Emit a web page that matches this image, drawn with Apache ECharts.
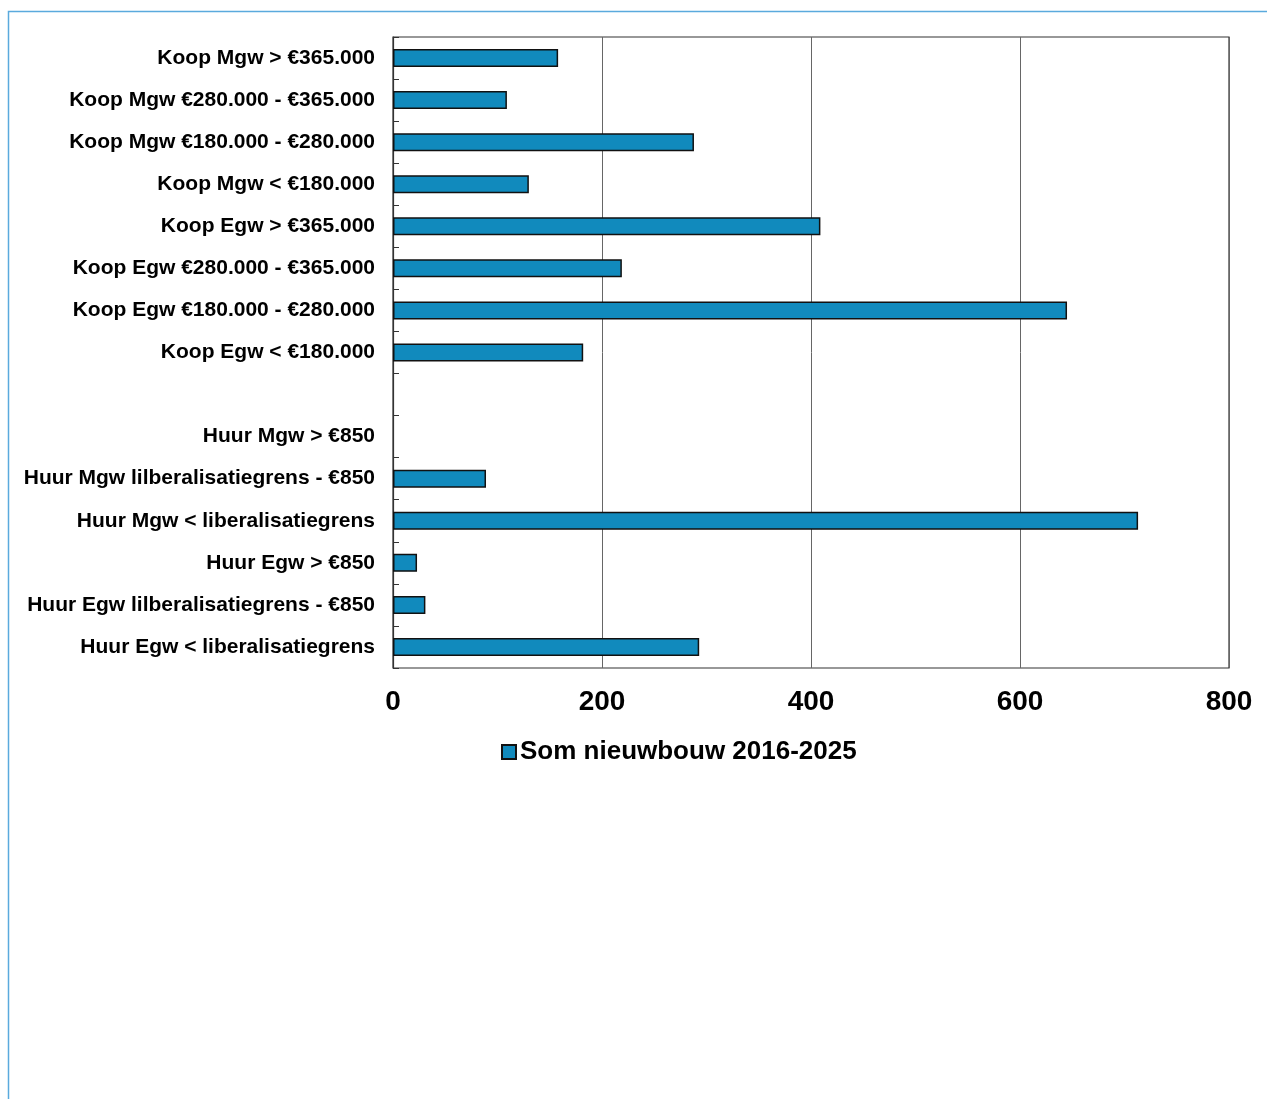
<!DOCTYPE html>
<html>
<head>
<meta charset="utf-8">
<script src="https://cdn.jsdelivr.net/npm/echarts@6/dist/echarts.min.js"></script>
<style>
html,body{margin:0;padding:0;background:#fff;}
#chart{width:1267px;height:1099px;}
</style>
</head>
<body>
<div id="chart"></div>
<script>
var categories = [
  'Koop Mgw > €365.000',
  'Koop Mgw €280.000 - €365.000',
  'Koop Mgw €180.000 - €280.000',
  'Koop Mgw < €180.000',
  'Koop Egw > €365.000',
  'Koop Egw €280.000 - €365.000',
  'Koop Egw €180.000 - €280.000',
  'Koop Egw < €180.000',
  '',
  'Huur Mgw > €850',
  'Huur Mgw lilberalisatiegrens - €850',
  'Huur Mgw < liberalisatiegrens',
  'Huur Egw > €850',
  'Huur Egw lilberalisatiegrens - €850',
  'Huur Egw < liberalisatiegrens'
];
var values = [158, 109, 288, 130, 409, 219, 645, 182, null, null, 89, 713, 23, 31, 293];
var seriesName = 'Som nieuwbouw 2016-2025';
var xTicks = [0, 200, 400, 600, 800];

var chart = echarts.init(document.getElementById('chart'));
var font = '"Liberation Sans", Arial, sans-serif';
chart.setOption({
  animation: false,
  backgroundColor: '#fff',
  grid: {left: 393, right: 38, top: 37, bottom: 431, containLabel: false,
         show: true, borderColor: '#333', borderWidth: 1.2},
  legend: {
    data: [seriesName], top: 734, left: 496,
    itemWidth: 14, itemHeight: 14, itemGap: 6,
    icon: 'rect',
    textStyle: {fontFamily: font, fontWeight: 'bold', fontSize: 26, color: '#000', padding: [0, 0, 0, -1]}
  },
  xAxis: {
    type: 'value', min: xTicks[0], max: xTicks[xTicks.length - 1], interval: 200,
    axisLine: {show: false}, axisTick: {show: false},
    splitLine: {show: true, lineStyle: {color: '#666', width: 1}},
    axisLabel: {margin: 20, fontFamily: font, fontWeight: 'bold', fontSize: 28, color: '#000'}
  },
  yAxis: {
    type: 'category', data: categories, inverse: true,
    axisLine: {show: true, lineStyle: {color: '#333', width: 1.2}},
    axisTick: {show: true, inside: true, length: 6, lineStyle: {color: '#333', width: 1}},
    splitLine: {show: false},
    axisLabel: {margin: 18, fontFamily: font, fontWeight: 'bold', fontSize: 21, color: '#000'}
  },
  series: [{
    name: seriesName, type: 'bar', data: values,
    barWidth: 18,
    itemStyle: {color: '#118abd', borderColor: '#111', borderWidth: 1.5}
  }],
  graphic: [
    {type: 'polyline', silent: true,
     shape: {points: [[8.5, 1099], [8.5, 11.5], [1267, 11.5]]},
     style: {stroke: '#5aaadd', lineWidth: 1.5, fill: null}}
  ]
});
</script>
</body>
</html>
